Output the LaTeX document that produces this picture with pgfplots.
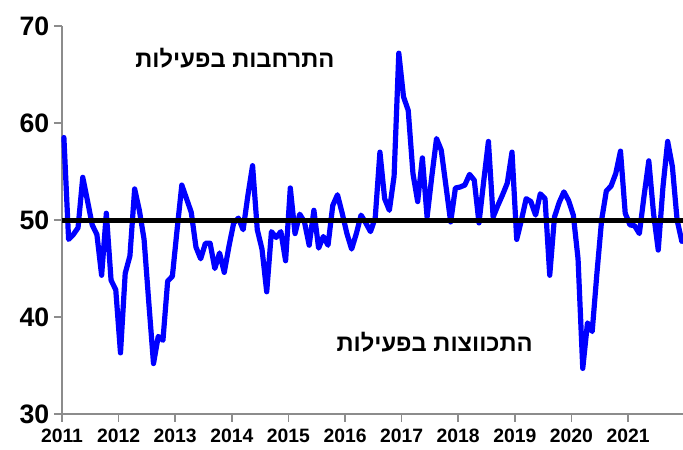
\documentclass[border=0pt]{standalone}
\usepackage{fontspec}
\setmainfont{Liberation Sans}
\newfontfamily\hebfont[Script=Hebrew]{Liberation Sans}
\TeXXeTstate=1
\usepackage{pgfplots}
\pgfplotsset{compat=1.18}
\usepackage{pgfplotstable}
\definecolor{lineblue}{RGB}{0,0,255}
\definecolor{axgray}{RGB}{140,140,140}
\pgfplotstableread{
m v
0 58.5
1 48.0
2 48.5
3 49.2
4 54.4
5 52.0
6 49.5
7 48.5
8 44.3
9 50.7
10 43.8
11 42.8
12 36.3
13 44.5
14 46.3
15 53.2
16 51.0
17 48.0
18 41.5
19 35.2
20 38.0
21 37.6
22 43.7
23 44.2
24 49.0
25 53.6
26 52.2
27 50.8
28 47.2
29 46.0
30 47.6
31 47.6
32 45.0
33 46.6
34 44.6
35 47.3
36 49.7
37 50.2
38 49.0
39 52.5
40 55.6
41 49.0
42 47.0
43 42.6
44 48.8
45 48.2
46 48.8
47 45.8
48 53.3
49 48.6
50 50.6
51 49.8
52 47.4
53 51.0
54 47.1
55 48.3
56 47.4
57 51.5
58 52.6
59 50.7
60 48.6
61 47.0
62 48.6
63 50.5
64 49.7
65 48.8
66 50.2
67 57.0
68 52.2
69 51.0
70 54.5
71 67.2
72 62.7
73 61.3
74 54.8
75 51.9
76 56.4
77 50.3
78 54.5
79 58.4
80 57.2
81 53.5
82 49.8
83 53.3
84 53.4
85 53.6
86 54.7
87 54.1
88 49.7
89 54.0
90 58.1
91 50.3
92 51.5
93 52.6
94 53.8
95 57.0
96 48.0
97 50.0
98 52.2
99 51.9
100 50.5
101 52.7
102 52.2
103 44.3
104 50.3
105 51.8
106 52.9
107 52.0
108 50.5
109 46.0
110 34.7
111 39.4
112 38.5
113 44.5
114 50.0
115 53.0
116 53.5
117 54.8
118 57.1
119 50.7
120 49.5
121 49.4
122 48.6
123 52.5
124 56.1
125 50.7
126 46.9
127 53.4
128 58.1
129 55.5
130 50.0
131 47.8
}\pmidata
\begin{document}
\begin{tikzpicture}
\begin{axis}[
  scale only axis,
  width=465.75pt, height=291pt,
  xmin=-0.4, xmax=131.25,
  ymin=30, ymax=70,
  axis lines=left,
  axis line style={-, draw=axgray, line width=1.2pt},
  tick align=outside,
  major tick length=6pt,
  tick style={draw=axgray, line width=1.2pt},
  xtick={-0.4,11.6,23.6,35.6,47.6,59.6,71.6,83.6,95.6,107.6,119.6},
  xticklabels={2011,2012,2013,2014,2015,2016,2017,2018,2019,2020,2021},
  ytick={30,40,50,60,70},
  /pgf/number format/assume math mode=true,
  xticklabel style={font=\bfseries\fontsize{14.5}{14.5}\selectfont, yshift=-2pt},
  yticklabel style={font=\bfseries\fontsize{20}{20}\selectfont},
  clip=false,
]
\addplot[lineblue, line width=3.9pt, line join=round, line cap=round] table[x=m, y=v] {\pmidata};
\addplot[black, line width=3.75pt] coordinates {(-0.4,50) (131.25,50)};
\node[font=\hebfont\bfseries\fontsize{17.8}{17.8}\selectfont] at (axis cs:36.25,66.7) {\beginR התרחבות בפעילות\endR};
\node[font=\hebfont\bfseries\fontsize{17.8}{17.8}\selectfont] at (axis cs:78.6,37.4) {\beginR התכווצות בפעילות\endR};
\end{axis}
\pgfresetboundingbox
\path[use as bounding box] (-46.5pt,-27pt) rectangle (465.75pt,310.5pt);
\end{tikzpicture}
\end{document}
